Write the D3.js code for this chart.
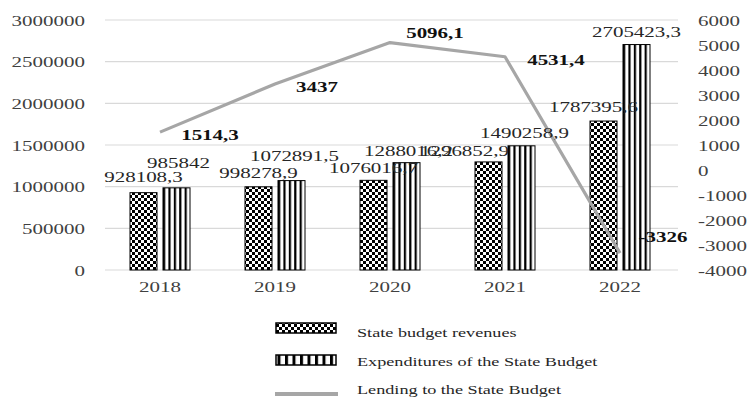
<!DOCTYPE html>
<html>
<head>
<meta charset="utf-8">
<script src="https://cdn.jsdelivr.net/npm/d3@7"></script>
<style>
  html, body { margin: 0; padding: 0; background: #fff; }
  svg { display: block; }
  text { font-family: "Liberation Serif", "Times New Roman", serif; }
</style>
</head>
<body>
<svg id="chart" width="750" height="400"></svg>
<script>
// ---- data ----
const years = ["2018", "2019", "2020", "2021", "2022"];
const revenues = [928108.3, 998278.9, 1076016.7, 1296852.9, 1787395.6];
const expenditures = [985842, 1072891.5, 1288016.2, 1490258.9, 2705423.3];
const lending = [1514.3, 3437, 5096.1, 4531.4, -3326];
const leftTicks = [0, 500000, 1000000, 1500000, 2000000, 2500000, 3000000];
const rightTicks = [-4000, -3000, -2000, -1000, 0, 1000, 2000, 3000, 4000, 5000, 6000];
const legendLabels = ["State budget revenues", "Expenditures of the State Budget", "Lending to the State Budget"];

// ---- label placement nudges (dx, dy in px from the mark) ----
const revNudge = [[0, -16], [0, -14], [0, -13], [-24, -11], [-10, -14]];
const expNudge = [[2, -25], [3, -25], [2, -12], [3, -13], [0, -13]];
const lendNudge = [[50, 3], [42, 3], [45, -10], [51, 3], [43, -16]];

const SX = 1.4; // horizontal stretch of the serif lettering
const fmt = v => String(v).replace(".", ",");

const svg = d3.select("#chart");
const plotTop = 20, plotBottom = 270, plotLeft = 105, plotRight = 678;

const x = d3.scaleBand().domain(years).range([102.5, 677.5]);
const yL = d3.scaleLinear().domain([0, 3000000]).range([plotBottom, plotTop]);
const yR = d3.scaleLinear().domain([-4000, 6000]).range([plotBottom, plotTop]);
const barW = 27, gap = 6;
const cx = d => x(d) + x.bandwidth() / 2;

// ---- patterns ----
const defs = svg.append("defs");
const checker = defs.append("pattern").attr("id", "checker")
  .attr("patternUnits", "userSpaceOnUse").attr("width", 6).attr("height", 6);
checker.append("rect").attr("width", 6).attr("height", 6).attr("fill", "#fff");
checker.append("rect").attr("width", 3).attr("height", 3).attr("fill", "#000");
checker.append("rect").attr("x", 3).attr("y", 3).attr("width", 3).attr("height", 3).attr("fill", "#000");

const stripes = defs.append("pattern").attr("id", "stripes")
  .attr("patternUnits", "objectBoundingBox").attr("width", 0.2).attr("height", 1);
stripes.append("rect").attr("width", 10).attr("height", 400).attr("fill", "#fff");
stripes.append("rect").attr("width", 2.2).attr("height", 400).attr("fill", "#000");

const stripesLeg = defs.append("pattern").attr("id", "stripesLeg")
  .attr("patternUnits", "userSpaceOnUse").attr("width", 7.5).attr("height", 20);
stripesLeg.append("rect").attr("width", 7.5).attr("height", 20).attr("fill", "#fff");
stripesLeg.append("rect").attr("width", 3).attr("height", 20).attr("fill", "#000");

// ---- gridlines ----
svg.append("g").selectAll("line").data(leftTicks).join("line")
  .attr("x1", plotLeft).attr("x2", plotRight)
  .attr("y1", d => yL(d)).attr("y2", d => yL(d))
  .attr("stroke", "#d9d9d9").attr("stroke-width", 1.2);

// ---- axes ----
const axL = svg.append("g").attr("transform", `translate(${plotLeft},0)`)
  .call(d3.axisLeft(yL).tickValues(leftTicks).tickSize(0).tickFormat(d => String(d)));
axL.select(".domain").remove();
axL.selectAll("text")
  .attr("x", -20 / SX).attr("dy", "0.35em")
  .attr("transform", `scale(${SX},1)`)
  .attr("font-size", 15).attr("fill", "#404040")
  .style("font-family", '"Liberation Serif", serif');

const axR = svg.append("g").attr("transform", `translate(${plotRight},0)`)
  .call(d3.axisRight(yR).tickValues(rightTicks).tickSize(0).tickFormat(d => String(d)));
axR.select(".domain").remove();
axR.selectAll("text")
  .attr("x", 20 / SX).attr("dy", "0.35em")
  .attr("transform", `scale(${SX},1)`)
  .attr("font-size", 15).attr("fill", "#404040")
  .style("font-family", '"Liberation Serif", serif');

const axB = svg.append("g").attr("transform", `translate(0,${plotBottom})`)
  .call(d3.axisBottom(x).tickSize(0));
axB.select(".domain").remove();
axB.selectAll("text")
  .attr("y", 17).attr("dy", "0.35em")
  .attr("transform", `scale(${SX},1)`)
  .attr("font-size", 15).attr("fill", "#404040")
  .style("font-family", '"Liberation Serif", serif');

// ---- bars ----
const rows = years.map((yr, i) => ({ yr, i, rev: revenues[i], exp: expenditures[i], lend: lending[i] }));

svg.append("g").selectAll("rect").data(rows).join("rect")
  .attr("x", d => cx(d.yr) - gap / 2 - barW)
  .attr("y", d => yL(d.rev))
  .attr("width", barW).attr("height", d => yL(0) - yL(d.rev))
  .attr("fill", "url(#checker)").attr("stroke", "#000").attr("stroke-width", 1);

svg.append("g").selectAll("rect").data(rows).join("rect")
  .attr("x", d => cx(d.yr) + gap / 2)
  .attr("y", d => yL(d.exp))
  .attr("width", barW).attr("height", d => yL(0) - yL(d.exp))
  .attr("fill", "url(#stripes)").attr("stroke", "#000").attr("stroke-width", 1);

// ---- lending line ----
const line = d3.line().x(d => cx(d.yr)).y(d => yR(d.lend));
svg.append("path").datum(rows)
  .attr("d", line).attr("fill", "none")
  .attr("stroke", "#a6a6a6").attr("stroke-width", 3.2).attr("stroke-linejoin", "round");

// ---- value labels ----
function stretchedText(g, data, px, py, txt, opts) {
  g.selectAll("text").data(data).join("text")
    .attr("transform", d => `translate(${px(d)},${py(d)}) scale(${SX},1)`)
    .attr("text-anchor", "middle").attr("dy", "0.35em")
    .attr("font-size", opts.size).attr("font-weight", opts.weight)
    .attr("fill", opts.fill)
    .text(txt);
}

stretchedText(svg.append("g"), rows,
  d => cx(d.yr) - gap / 2 - barW / 2 + revNudge[d.i][0],
  d => yL(d.rev) + revNudge[d.i][1],
  d => fmt(d.rev), { size: 15, weight: "normal", fill: "#262626" });

stretchedText(svg.append("g"), rows,
  d => cx(d.yr) + gap / 2 + barW / 2 + expNudge[d.i][0],
  d => yL(d.exp) + expNudge[d.i][1],
  d => fmt(d.exp), { size: 15, weight: "normal", fill: "#262626" });

stretchedText(svg.append("g"), rows,
  d => cx(d.yr) + lendNudge[d.i][0],
  d => yR(d.lend) + lendNudge[d.i][1],
  d => fmt(d.lend), { size: 15, weight: "bold", fill: "#111" });

// ---- legend ----
const leg = svg.append("g");
const symY = [328, 360, 394];
const txtY = [332, 361, 389];
leg.append("rect").attr("x", 276).attr("y", symY[0] - 5).attr("width", 60).attr("height", 10)
  .attr("fill", "url(#checker)").attr("stroke", "#000").attr("stroke-width", 1.5);
leg.append("rect").attr("x", 276).attr("y", symY[1] - 5).attr("width", 60).attr("height", 10)
  .attr("fill", "url(#stripesLeg)").attr("stroke", "#000").attr("stroke-width", 1.5);
leg.append("line").attr("x1", 275).attr("x2", 338).attr("y1", symY[2]).attr("y2", symY[2])
  .attr("stroke", "#a6a6a6").attr("stroke-width", 4);
leg.selectAll("text").data(legendLabels).join("text")
  .attr("transform", (d, i) => `translate(357,${txtY[i]}) scale(${SX},1)`)
  .attr("dy", "0.35em").attr("font-size", 13).attr("fill", "#262626")
  .text(d => d);
</script>
</body>
</html>
